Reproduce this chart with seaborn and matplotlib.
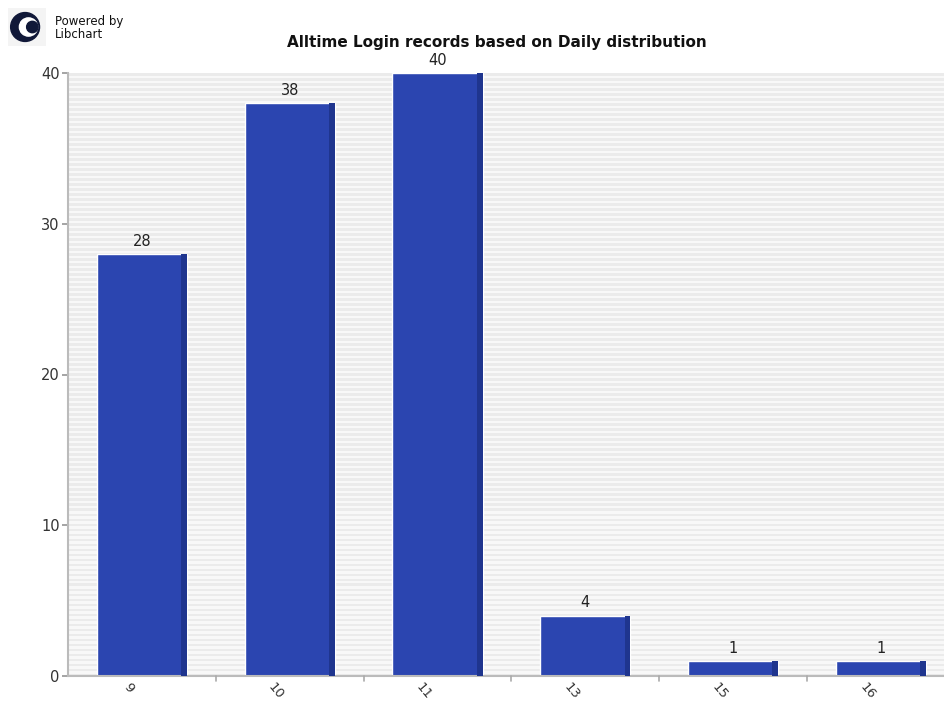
import numpy as np
import pandas as pd
import matplotlib
matplotlib.use("Agg")
import matplotlib.pyplot as plt
import matplotlib.patches as mpatches
import seaborn as sns

# data
hours = ["9", "10", "11", "13", "15", "16"]
logins = [28, 38, 40, 4, 1, 1]

df = pd.DataFrame({"hour": hours, "logins": logins})

sns.set_theme(style="white")
plt.rcParams['font.family'] = ['DejaVu Sans']

fig = plt.figure(figsize=(9.44, 7.02), dpi=100)
ax = fig.add_axes([68 / 944, 1 - 676 / 702, 1 - 68 / 944, (676 - 73) / 702])

# striped background
ax.set_facecolor("#f8f8f8")
step = 40 / 603 * 5
for y0 in np.arange(0, 40, step):
    ax.axhspan(y0, y0 + step / 2, color="#ebebeb", lw=0, zorder=0)

sns.barplot(data=df, x="hour", y="logins", color="#2b45b0", saturation=1,
            width=0.61, ax=ax, zorder=2)

# darker side face on each bar + value labels
for p in ax.containers[0]:
    w = p.get_width()
    ax.add_patch(mpatches.Rectangle((p.get_x() + w * 0.935, 0), w * 0.065, p.get_height(),
                                    color="#1f358e", lw=0, zorder=3))
    ax.text(p.get_x() + w / 2, p.get_height() + 0.35, f"{int(p.get_height())}",
            ha="center", va="bottom", fontsize=10.5, color="#222222")

ax.set_ylim(0, 40)
ax.set_xlim(-0.5, 5.5 - 11 / 148)
ax.set_yticks([0, 10, 20, 30, 40])
ax.set_xticks(np.arange(len(hours)))
ax.set_xticklabels([])
for i, h in enumerate(hours):
    ax.annotate(h, xy=(i, 0), xycoords=("data", "axes fraction"),
                xytext=(-10, -3), textcoords="offset points",
                rotation=-50, ha="center", va="top",
                fontsize=9.5, color="#333333")
ax.tick_params(axis="y", labelsize=10.5, labelcolor="#333333", length=4,
               color="#999999", left=True, pad=2)
ax.tick_params(axis="x", bottom=False)
# separator ticks between categories
for xs in np.arange(0.5, len(hours) - 1, 1):
    ax.plot([xs, xs], [0, -0.35], color="#aaaaaa", lw=1.2, clip_on=False, zorder=5)
ax.set_xlabel("")
ax.set_ylabel("")
for s in ["top", "right"]:
    ax.spines[s].set_visible(False)
for s in ["left", "bottom"]:
    ax.spines[s].set_color("#bbbbbb")
    ax.spines[s].set_linewidth(1.5)

fig.text(497 / 944, 1 - 42 / 702, "Alltime Login records based on Daily distribution",
         ha="center", va="center", fontsize=11, fontweight="bold", color="#111111")

# logo
logo = fig.add_axes([8 / 944, 1 - 46 / 702, 38 / 944, 38 / 702])
logo.set_xlim(0, 1)
logo.set_ylim(0, 1)
logo.axis("off")
logo.add_patch(mpatches.Rectangle((0, 0), 1, 1, color="#f4f4f4", lw=0))
logo.add_patch(mpatches.Circle((0.45, 0.5), 0.38, color="#101838"))
logo.add_patch(mpatches.Circle((0.54, 0.5), 0.24, color="white"))
logo.add_patch(mpatches.Circle((0.64, 0.5), 0.15, color="#101838"))
fig.text(55 / 944, 1 - 28 / 702, "Powered by\nLibchart", ha="left", va="center",
         fontsize=8.5, color="#111111", linespacing=0.9)

fig.savefig("out.png", dpi=100)
